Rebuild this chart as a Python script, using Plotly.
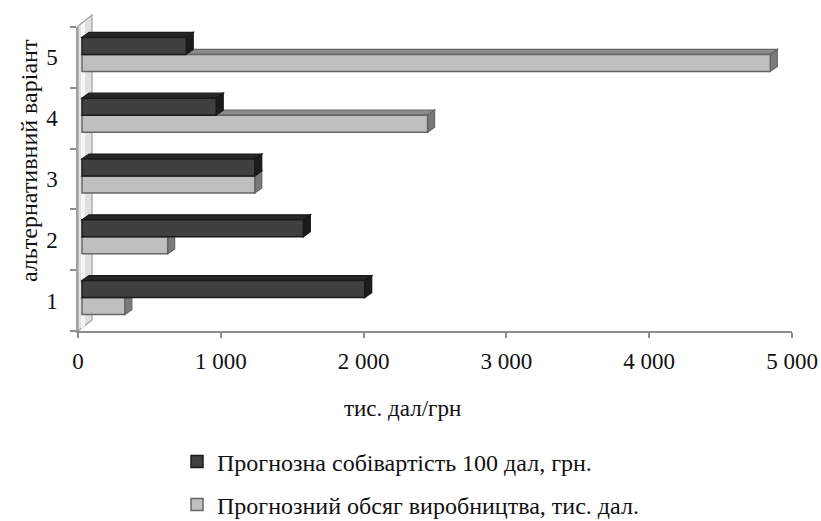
import plotly.graph_objects as go

# --- data -------------------------------------------------------------------
variants = [1, 2, 3, 4, 5]
variant_labels = ["1", "2", "3", "4", "5"]
cost_per_100 = [1980, 1550, 1210, 940, 730]      # Прогнозна собівартість 100 дал, грн.
output_volume = [300, 600, 1210, 2420, 4820]     # Прогнозний обсяг виробництва, тис. дал.
x_ticks = [0, 1000, 2000, 3000, 4000, 5000]

name_cost = "Прогнозна собівартість 100 дал, грн."
name_volume = "Прогнозний обсяг виробництва, тис. дал."

# --- geometry ---------------------------------------------------------------
W, H = 821, 521
ML, MR, MT, MB = 78, 29, 27, 190
PW = W - ML - MR
PH = H - MT - MB
XMAX = 5000
YMIN, YMAX = 0.5, 5.5
ux = XMAX / PW              # value units per pixel
uy = (YMAX - YMIN) / PH     # category units per pixel

front_dx, front_dy = 4, 3   # bar plane sits a little behind the axis plane
depth_dx, depth_dy = 7, 5   # extrusion of each bar
bar_w = 0.28

FONT = "Liberation Serif, Times New Roman, serif"
TXT = "#111111"
AXIS_GREY = "#8c8c8c"

styles = {
    "dark": dict(front="#404040", top="#262626", side="#1c1c1c", line="#1a1a1a"),
    "light": dict(front="#bfbfbf", top="#8c8c8c", side="#7a7a7a", line="#666666"),
}

fig = go.Figure()

# invisible anchor trace so the visible axes are drawn
fig.add_trace(go.Scatter(
    x=[0, XMAX], y=[YMIN, YMAX], mode="markers",
    marker=dict(opacity=0), showlegend=False, hoverinfo="skip",
))

# light series below, dark series above within each category
fig.add_trace(go.Bar(
    x=output_volume, y=variants, orientation="h", name=name_volume,
    width=bar_w, offset=-bar_w, xaxis="x2", yaxis="y2",
    marker=dict(color=styles["light"]["front"],
                line=dict(color=styles["light"]["line"], width=1.5)),
    legend="legend2", hoverinfo="x+name",
))
fig.add_trace(go.Bar(
    x=cost_per_100, y=variants, orientation="h", name=name_cost,
    width=bar_w, offset=0, xaxis="x2", yaxis="y2",
    marker=dict(color=styles["dark"]["front"],
                line=dict(color=styles["dark"]["line"], width=1.5)),
    legend="legend", hoverinfo="x+name",
))

shapes = []

# side wall of the 3D box
wx = 14 / PW
shapes.append(dict(
    type="path", xref="paper", yref="paper", layer="below",
    path=(f"M 0,0 L 0,{1 + 1 / PH} L {wx},{1 + 12 / PH} L {wx},{11 / PH} Z"),
    fillcolor="#e0e0e0", line=dict(color="#a0a0a0", width=1.2),
))
shapes.append(dict(
    type="path", xref="paper", yref="paper", layer="below",
    path=(f"M {3 / PW},{2 / PH} L {3 / PW},{1 + 2 / PH} L {7 / PW},{1 + 5 / PH} L {7 / PW},{5 / PH} Z"),
    fillcolor="#f6f6f6", line=dict(width=0),
))

ddx = depth_dx * ux
ddy = depth_dy * uy


def extrude(values, lower, st):
    for v, val in zip(variants, values):
        y0 = v - bar_w if lower else v
        y1 = v if lower else v + bar_w
        # top face
        shapes.append(dict(
            type="path", xref="x2", yref="y2", layer="below",
            path=(f"M 0,{y1} L {val},{y1} L {val + ddx},{y1 + ddy} "
                  f"L {ddx},{y1 + ddy} Z"),
            fillcolor=st["top"], line=dict(color=st["line"], width=1.2),
        ))
        # right-hand face
        shapes.append(dict(
            type="path", xref="x2", yref="y2", layer="below",
            path=(f"M {val},{y0} L {val},{y1} L {val + ddx},{y1 + ddy} "
                  f"L {val + ddx},{y0 + ddy} Z"),
            fillcolor=st["side"], line=dict(color=st["line"], width=1.2),
        ))


extrude(output_volume, True, styles["light"])
extrude(cost_per_100, False, styles["dark"])

annotations = [
    dict(text="альтернативний варіант", xref="paper", yref="paper",
         x=(29 - ML) / PW, y=(MT + PH - 161) / PH, textangle=-90,
         xanchor="center", yanchor="middle",
         showarrow=False, font=dict(family=FONT, size=24, color=TXT)),
    dict(text="тис. дал/грн", xref="paper", yref="paper",
         x=(402 - ML) / PW, y=(MT + PH - 408) / PH,
         xanchor="center", yanchor="middle",
         showarrow=False, font=dict(family=FONT, size=23, color=TXT)),
]

legend_common = dict(
    xanchor="left", yanchor="middle", bgcolor="rgba(0,0,0,0)",
    font=dict(family=FONT, size=24, color=TXT), itemwidth=30,
)

fig.update_layout(
    width=W, height=H,
    margin=dict(l=ML, r=MR, t=MT, b=MB, pad=0, autoexpand=False),
    paper_bgcolor="white", plot_bgcolor="white",
    barmode="overlay",
    separators=". ",
    font=dict(family=FONT, color=TXT),
    shapes=shapes,
    annotations=annotations,
    showlegend=True,
    legend=dict(x=(177 - ML) / PW, y=(MT + PH - 462) / PH, **legend_common),
    legend2=dict(x=(177 - ML) / PW, y=(MT + PH - 505) / PH, **legend_common),
    xaxis=dict(
        range=[0, XMAX], tickvals=x_ticks, tickformat=",d",
        showline=True, linecolor=AXIS_GREY, linewidth=2,
        ticks="outside", ticklen=5, tickcolor=AXIS_GREY, tickwidth=1.5,
        showgrid=False, zeroline=False, ticklabelstandoff=3,
        tickfont=dict(family=FONT, size=23, color=TXT),
    ),
    yaxis=dict(
        range=[YMIN, YMAX], tickvals=variants, ticktext=variant_labels,
        ticks="", showline=True, linecolor="#a0a0a0", linewidth=1.5,
        minor=dict(tickvals=[v - 0.5 for v in variants] + [variants[-1] + 0.5],
                   ticks="outside", ticklen=6, tickcolor=AXIS_GREY, tickwidth=1.5),
        showgrid=False, zeroline=False, ticklabelstandoff=14,
        tickfont=dict(family=FONT, size=23, color=TXT),
    ),
    xaxis2=dict(overlaying="x", range=[-front_dx * ux, XMAX - front_dx * ux],
                visible=False),
    yaxis2=dict(overlaying="y", range=[YMIN - front_dy * uy, YMAX - front_dy * uy],
                visible=False),
)

fig.write_html("out.html")
